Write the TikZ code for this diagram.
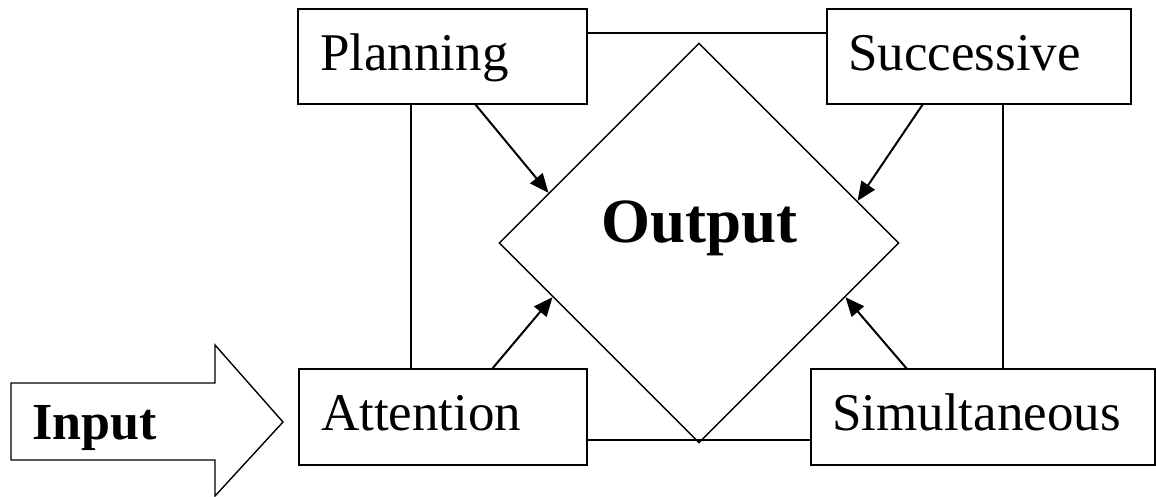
\documentclass[tikz,border=0pt]{standalone}
\usepackage{fontspec}
\setmainfont{Liberation Serif}
\usetikzlibrary{shapes.geometric,arrows.meta,calc}

\tikzset{
  boxnode/.style={draw, line width=2pt, rectangle, inner sep=0pt, outer sep=0pt},
  lbl/.style={inner sep=0pt, anchor=base west, font=\fontsize{53}{60}\selectfont},
  bigbold/.style={inner sep=0pt, anchor=base west, font=\fontsize{63}{70}\selectfont\bfseries},
  link/.style={line width=2pt},
  flow/.style={line width=2pt, -{Triangle[length=19pt,width=16pt]}},
}

\begin{document}
\begin{tikzpicture}[x=1pt, y=-1pt]
\useasboundingbox (0,0) rectangle (1156,497);

% the four processing boxes
\node[boxnode, minimum width=289pt, minimum height=95pt] (plan) at (442.5,56.5) {};
\node[boxnode, minimum width=304pt, minimum height=95pt] (succ) at (979,56.5) {};
\node[boxnode, minimum width=288pt, minimum height=96pt] (att)  at (443,417) {};
\node[boxnode, minimum width=344pt, minimum height=96pt] (simu) at (983,417) {};

\node[lbl] (plantxt) at (320,71)  {Planning};
\node[lbl] (succtxt) at (848,71)  {Successive};
\node[lbl] (atttxt)  at (321,430) {Attention};
\node[lbl] (simutxt) at (832,430) {Simultaneous};

% central output diamond
\node[diamond, draw, line width=1.4pt, inner sep=0pt, minimum width=400pt, minimum height=400pt] (out) at (699,243) {};
\node[bigbold] (outtxt) at (601,242) {Output};

% input block arrow
\draw[line width=1.4pt, line join=miter]
  (11,383) -- (215,383) -- (215,345) -- (283,422) -- (215,496) -- (215,460) -- (11,460) -- cycle;
\node[inner sep=0pt, anchor=base west, font=\fontsize{52}{60}\selectfont\bfseries] (intxt) at (32,439) {Input};

% frame lines linking the boxes
\coordinate (ytop) at (0,33);
\coordinate (ybot) at (0,440);
\coordinate (xleft) at (411,0);
\coordinate (xright) at (1003,0);
\draw[link] (plan.east |- ytop) -- (succ.west |- ytop);
\draw[link] (att.east |- ybot) -- (simu.west |- ybot);
\draw[link] (plan.south -| xleft) -- (att.north -| xleft);
\draw[link] (succ.south -| xright) -- (simu.north -| xright);

% arrows into the diamond
\coordinate (pa) at (475,0);
\coordinate (sa) at (923,0);
\coordinate (aa) at (492,0);
\coordinate (ma) at (907,0);
\draw[flow] (plan.south -| pa) -- ($(out.north)!0.75!(out.west)$);
\draw[flow] (succ.south -| sa) -- ($(out.north)!0.79!(out.east)$);
\draw[flow] (att.north -| aa)  -- ($(out.west)!0.27!(out.south)$);
\draw[flow] (simu.north -| ma) -- ($(out.east)!0.27!(out.south)$);
\end{tikzpicture}
\end{document}
